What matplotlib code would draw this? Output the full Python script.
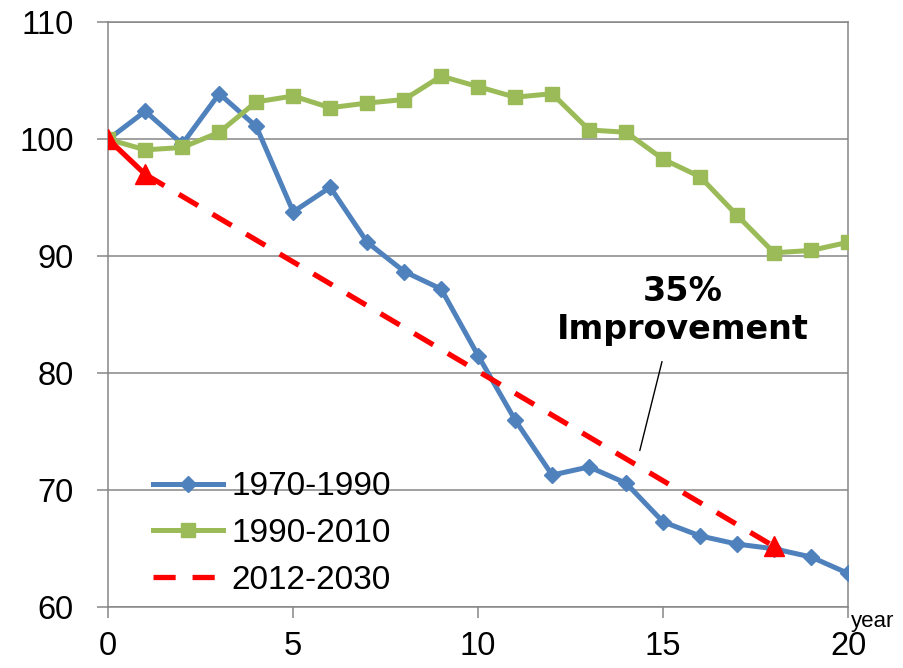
import matplotlib.pyplot as plt

# years since start of each period
years = list(range(21))
s1970 = [100, 102.4, 99.6, 103.9, 101.1, 93.8, 95.9, 91.2, 88.7, 87.2, 81.5,
         76.0, 71.3, 72.0, 70.6, 67.3, 66.1, 65.4, 65.0, 64.3, 62.9]
s1990 = [100, 99.1, 99.3, 100.6, 103.2, 103.7, 102.7, 103.1, 103.4, 105.4, 104.5,
         103.6, 103.9, 100.8, 100.6, 98.3, 96.8, 93.5, 90.3, 90.5, 91.2]
tgt_x = [0, 1, 18]
tgt_y = [100, 97.0, 65.2]

blue = '#4F81BD'
green = '#9BBB59'
red = '#FF0000'
gray = '#868686'

plt.rcParams['font.family'] = ['Liberation Sans', 'DejaVu Sans']

fig = plt.figure(figsize=(9.04, 6.68), dpi=100)
ax = fig.add_axes([0.1198, 0.0909, 0.8183, 0.8757])

ax.plot(years, s1970, color=blue, lw=3.6, marker='D', markersize=8.5, label='1970-1990', zorder=3)
ax.plot(years, s1990, color=green, lw=3.6, marker='s', markersize=10, label='1990-2010', zorder=3)
ax.plot(tgt_x[:2], tgt_y[:2], color=red, lw=3.8, zorder=4)
ax.plot(tgt_x[1:], tgt_y[1:], color=red, lw=3.8, ls=(0, (4.2, 3.2)), label='2012-2030', zorder=4)
ax.plot(tgt_x, tgt_y, ls='none', marker='^', markersize=14, color=red, zorder=5)

ax.set_xlim(0, 20)
ax.set_ylim(60, 110)
ax.set_xticks([0, 5, 10, 15, 20])
ax.set_yticks(range(60, 111, 10))
ax.grid(axis='y', color=gray, lw=1.1)
ax.set_axisbelow(True)
for s in ax.spines.values():
    s.set_color(gray)
    s.set_linewidth(1.1)
ax.tick_params(axis='both', colors=gray, labelcolor='black', width=1.1, length=8, labelsize=23.5)
ax.tick_params(axis='x', pad=9)
ax.tick_params(axis='y', pad=17)

ax.text(1.004, -0.024, 'year', transform=ax.transAxes, ha='left', va='center', fontsize=16)

ax.text(15.54, 85.4, '35%\nImprovement', ha='center', va='center', fontsize=24,
        fontweight='bold', family='DejaVu Sans', linespacing=1.2)
ax.annotate('', xy=(14.37, 73.4), xytext=(14.97, 81.0),
            arrowprops=dict(arrowstyle='-', color='black', lw=1, shrinkA=0, shrinkB=0))

ax.legend(loc='upper left', bbox_to_anchor=(0.042, 0.255), frameon=False, fontsize=24,
          handlelength=2.1, handletextpad=0.25, labelspacing=0.47, borderaxespad=0)

plt.savefig('out.png', dpi=100)
